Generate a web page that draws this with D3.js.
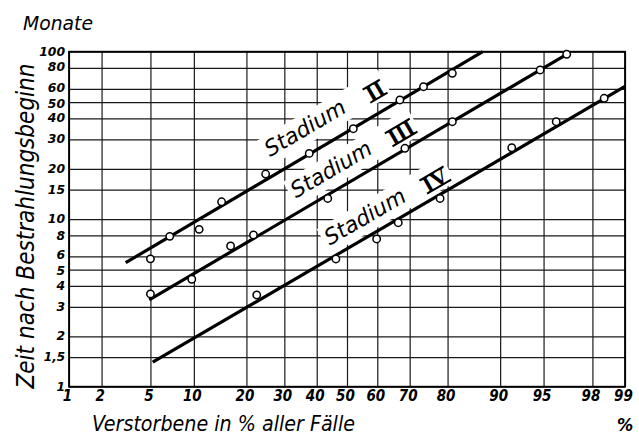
<!DOCTYPE html>
<html>
<head>
<meta charset="utf-8">
<script src="https://cdn.jsdelivr.net/npm/d3@7"></script>
<style>
  html, body { margin: 0; padding: 0; background: #fff; }
  svg { display: block; }
  .lbl { font-family: "DejaVu Sans Condensed", "Liberation Sans Narrow", "DejaVu Sans", sans-serif; font-style: italic; }
</style>
</head>
<body>
<svg id="chart" width="639" height="441"></svg>
<script>
// ---------- data ----------
const xTicks = [1, 2, 5, 10, 20, 30, 40, 50, 60, 70, 80, 90, 95, 98, 99];
const xTickLabels = ["1", "2", "5", "10", "20", "30", "40", "50", "60", "70", "80", "90", "95", "98", "99"];
const yTicks = [1, 1.5, 2, 3, 4, 5, 6, 8, 10, 15, 20, 30, 40, 50, 60, 80, 100];
const yTickLabels = ["1", "1,5", "2", "3", "4", "5", "6", "8", "10", "15", "20", "30", "40", "50", "60", "80", "100"];

const stages = ["II", "III", "IV"];

// observed points: percent deceased, months
const stage2Pct    = [5, 6.9, 10.8, 14.7, 24.8, 37.6, 52.1, 67.1, 73.9, 81.1];
const stage2Months = [5.8, 7.9, 8.7, 12.7, 18.6, 24.7, 34.7, 51.5, 61.8, 74.3];
const stage3Pct    = [5, 9.7, 16.5, 21.7, 43.6, 68.6, 81.1, 94.7, 96.7];
const stage3Months = [3.58, 4.38, 6.92, 8.05, 13.3, 26.5, 38.2, 77.8, 96.5];
const stage4Pct    = [22.5, 46.3, 59.8, 66.6, 78.2, 91.6, 96.0, 98.43];
const stage4Months = [3.53, 5.79, 7.62, 9.53, 13.3, 26.7, 38.2, 52.7];

// fitted lines: [start, end] as [percent, months]
const stage2Line = [[3.2, 5.5], [87.2, 100]];
const stage3Line = [[4.9, 3.3], [96.7, 96.5]];
const stage4Line = [[5.2, 1.4], [99, 62]];

// label start (percent along line)
const labelStartPct = [26.0, 33.5, 44.3];

// ---------- probit transform ----------
function probit(p) {
  const a = [-3.969683028665376e+01, 2.209460984245205e+02, -2.759285104469687e+02, 1.383577518672690e+02, -3.066479806614716e+01, 2.506628277459239e+00];
  const b = [-5.447609879822406e+01, 1.615858368580409e+02, -1.556989798598866e+02, 6.680131188771972e+01, -1.328068155288572e+01];
  const c = [-7.784894002430293e-03, -3.223964580411365e-01, -2.400758277161838e+00, -2.549732539343734e+00, 4.374664141464968e+00, 2.938163982698783e+00];
  const d = [7.784695709041462e-03, 3.224671290700398e-01, 2.445134137142996e+00, 3.754408661907416e+00];
  const plow = 0.02425, phigh = 1 - plow;
  let q, r;
  if (p < plow) {
    q = Math.sqrt(-2 * Math.log(p));
    return (((((c[0]*q+c[1])*q+c[2])*q+c[3])*q+c[4])*q+c[5]) / ((((d[0]*q+d[1])*q+d[2])*q+d[3])*q+1);
  } else if (p <= phigh) {
    q = p - 0.5; r = q*q;
    return (((((a[0]*r+a[1])*r+a[2])*r+a[3])*r+a[4])*r+a[5])*q / (((((b[0]*r+b[1])*r+b[2])*r+b[3])*r+b[4])*r+1);
  } else {
    q = Math.sqrt(-2 * Math.log(1 - p));
    return -(((((c[0]*q+c[1])*q+c[2])*q+c[3])*q+c[4])*q+c[5]) / ((((d[0]*q+d[1])*q+d[2])*q+d[3])*q+1);
  }
}

// ---------- layout ----------
const svg = d3.select("#chart");
const margin = { top: 51.7, right: 14, bottom: 54.3, left: 69 };
const W = 639 - margin.left - margin.right;
const H = 441 - margin.top - margin.bottom;

const zScale = d3.scaleLinear().domain([probit(0.01), probit(0.99)]).range([0, W]);
const xp = p => zScale(probit(p / 100));
const y = d3.scaleLog().domain([1, 100]).range([H, 0]);

const g = svg.append("g").attr("transform", `translate(${margin.left},${margin.top})`);

// grid + axes
const xAxis = d3.axisBottom(zScale)
  .tickValues(xTicks.map(p => probit(p / 100)))
  .tickSize(-H)
  .tickFormat((d, i) => xTickLabels[i]);
const gx = g.append("g").attr("transform", `translate(0,${H})`).call(xAxis);
gx.select(".domain").remove();
gx.selectAll(".tick line").attr("stroke", "#1a1a1a").attr("stroke-width", 1.2);
gx.selectAll(".tick text")
  .attr("class", "lbl")
  .attr("y", 14).attr("dy", 0).attr("dx", -2)
  .attr("fill", "#000")
  .style("font-size", "15px").style("font-weight", "bold");

// small vertical nudges to keep crowded labels apart
const yLabelNudge = { 80: -1.5, 60: -0.5, 50: 1.3, 6: -1, 5: 1 };
const yAxis = d3.axisLeft(y)
  .tickValues(yTicks)
  .tickSize(-W)
  .tickFormat((d, i) => yTickLabels[i]);
const gy = g.append("g").call(yAxis);
gy.select(".domain").remove();
gy.selectAll(".tick line").attr("stroke", "#1a1a1a").attr("stroke-width", 1.2);
gy.selectAll(".tick text")
  .attr("class", "lbl")
  .attr("x", -4)
  .attr("y", d => yLabelNudge[d] || 0)
  .attr("dy", "0.3em")
  .attr("fill", "#000")
  .attr("textLength", (d, i) => { const s = yTickLabels[i]; return s.replace(",", "").length * 8.6 + (s.includes(",") ? 4 : 0); })
  .attr("lengthAdjust", "spacingAndGlyphs")
  .style("font-size", "12px").style("font-weight", "bold");

// frame
g.append("rect").attr("x", 0).attr("y", 0).attr("width", W).attr("height", H)
  .attr("fill", "none").attr("stroke", "#000").attr("stroke-width", 1.8);

// ---------- series ----------
const series = [
  { name: stages[0], pct: stage2Pct, months: stage2Months, line: stage2Line, labelPct: labelStartPct[0], off: 20 },
  { name: stages[1], pct: stage3Pct, months: stage3Months, line: stage3Line, labelPct: labelStartPct[1], off: 15 },
  { name: stages[2], pct: stage4Pct, months: stage4Months, line: stage4Line, labelPct: labelStartPct[2], off: 13 }
];

// labels (with knock-out behind them)
series.forEach(s => {
  const [a, b] = s.line;
  const x0 = xp(a[0]), y0 = y(a[1]), x1 = xp(b[0]), y1 = y(b[1]);
  const th = Math.atan2(y1 - y0, x1 - x0);
  const ax = xp(s.labelPct);
  const t = (ax - x0) / (x1 - x0);
  const ay = y0 + t * (y1 - y0) - s.off;
  const lg = g.append("g").attr("transform", `translate(${ax},${ay}) rotate(${th * 180 / Math.PI})`);
  const knock = lg.append("rect").attr("fill", "#fff");
  lg.append("text").attr("class", "lbl")
    .attr("x", 0).attr("y", 0)
    .attr("textLength", 90).attr("lengthAdjust", "spacingAndGlyphs")
    .style("font-size", "22px").text("Stadium");
  const num = lg.append("text")
    .attr("x", 124).attr("y", 4).attr("text-anchor", "middle")
    .style("font-family", "'Liberation Serif', 'DejaVu Serif', serif")
    .style("font-weight", "bold").style("font-size", "23px")
    .text(s.name);
  const nb = num.node().getBBox();
  const capTop = 4 - 23 * 0.66;
  [4, capTop].forEach(yy => {
    lg.append("line")
      .attr("x1", nb.x - 1).attr("x2", nb.x + nb.width + 1)
      .attr("y1", yy).attr("y2", yy)
      .attr("stroke", "#000").attr("stroke-width", 2);
  });
  const bb = lg.node().getBBox();
  knock.attr("x", bb.x - 3).attr("y", bb.y - 1).attr("width", bb.width + 6).attr("height", bb.height);
});

// fitted lines
series.forEach(s => {
  g.append("line")
    .attr("x1", xp(s.line[0][0])).attr("y1", y(s.line[0][1]))
    .attr("x2", xp(s.line[1][0])).attr("y2", y(s.line[1][1]))
    .attr("stroke", "#000").attr("stroke-width", 3.2);
});

// points
series.forEach(s => {
  g.append("g").selectAll("circle")
    .data(s.pct.map((p, i) => [p, s.months[i]]))
    .join("circle")
    .attr("cx", d => xp(d[0])).attr("cy", d => y(d[1]))
    .attr("r", 3.7)
    .attr("fill", "#fff").attr("stroke", "#000").attr("stroke-width", 1.5);
});

// ---------- titles ----------
svg.append("text").attr("class", "lbl")
  .attr("x", 23).attr("y", 30)
  .attr("textLength", 70).attr("lengthAdjust", "spacingAndGlyphs")
  .style("font-size", "19px").text("Monate");

svg.append("text").attr("class", "lbl")
  .attr("transform", "translate(34,226) rotate(-90)")
  .attr("text-anchor", "middle")
  .attr("textLength", 325).attr("lengthAdjust", "spacingAndGlyphs")
  .style("font-size", "25px").text("Zeit nach Bestrahlungsbeginn");

svg.append("text").attr("class", "lbl")
  .attr("x", 92).attr("y", 431)
  .attr("textLength", 263).attr("lengthAdjust", "spacingAndGlyphs")
  .style("font-size", "21px").text("Verstorbene in % aller Fälle");

svg.append("text").attr("class", "lbl")
  .attr("x", margin.left + xp(99)).attr("y", 431).attr("text-anchor", "middle")
  .style("font-size", "18px").style("font-weight", "bold").text("%");
</script>
</body>
</html>
